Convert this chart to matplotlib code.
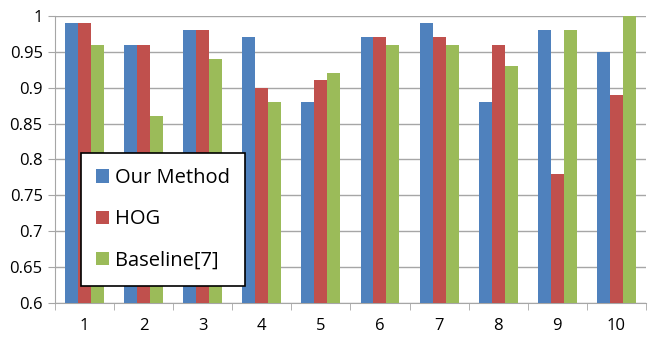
import numpy as np
import matplotlib
matplotlib.use("Agg")
import matplotlib.pyplot as plt

categories = ["1", "2", "3", "4", "5", "6", "7", "8", "9", "10"]
our_method = [0.99, 0.96, 0.98, 0.97, 0.88, 0.97, 0.99, 0.88, 0.98, 0.95]
hog = [0.99, 0.96, 0.98, 0.90, 0.91, 0.97, 0.97, 0.96, 0.78, 0.89]
baseline = [0.96, 0.86, 0.94, 0.88, 0.92, 0.96, 0.96, 0.93, 0.98, 1.00]
series_names = ["Our Method", "HOG", "Baseline[7]"]
colors = ["#4F81BD", "#C0504D", "#9BBB59"]

plt.rcParams['font.family'] = ['Open Sans', 'DejaVu Sans']

fig = plt.figure(figsize=(6.49, 3.37), dpi=100)
ax = fig.add_axes([0.085, 0.101, 0.91, 0.852])

x = np.arange(1, len(categories) + 1)
w = 0.22
for i, (vals, name, c) in enumerate(zip([our_method, hog, baseline], series_names, colors)):
    ax.bar(x + (i - 1) * w, np.array(vals) - 0.6, w, bottom=0.6, color=c, label=name, zorder=3)

ax.set_xlim(0.5, 10.5)
ax.set_ylim(0.6, 1.0)
ax.set_yticks(np.arange(0.6, 1.0001, 0.05))
ax.set_yticklabels(["0.6", "0.65", "0.7", "0.75", "0.8", "0.85", "0.9", "0.95", "1"])
ax.yaxis.grid(True, color="#A6A6A6", linewidth=1, zorder=0)

ax.set_xticks(x)
ax.set_xticklabels(categories)
ax.set_xticks(np.arange(0.5, 10.6, 1), minor=True)
ax.tick_params(axis="x", which="major", length=0, pad=11, labelsize=12, colors="black")
ax.tick_params(axis="x", which="minor", length=5, color="#A6A6A6")
ax.tick_params(axis="y", length=5, color="#A6A6A6", labelsize=12, pad=4)

for s in ["top", "right"]:
    ax.spines[s].set_visible(False)
for s in ["left", "bottom"]:
    ax.spines[s].set_color("#A6A6A6")

leg = ax.legend(loc="upper left", bbox_to_anchor=(0.044, 0.522), borderaxespad=0,
                fontsize=14.5, frameon=True, fancybox=False, framealpha=1,
                handlelength=0.65, handleheight=0.65, handletextpad=0.3,
                labelspacing=1.05, borderpad=0.75)
leg.get_frame().set_edgecolor("black")
leg.get_frame().set_linewidth(1.2)
leg.set_zorder(5)

fig.savefig("out.png", dpi=100)
